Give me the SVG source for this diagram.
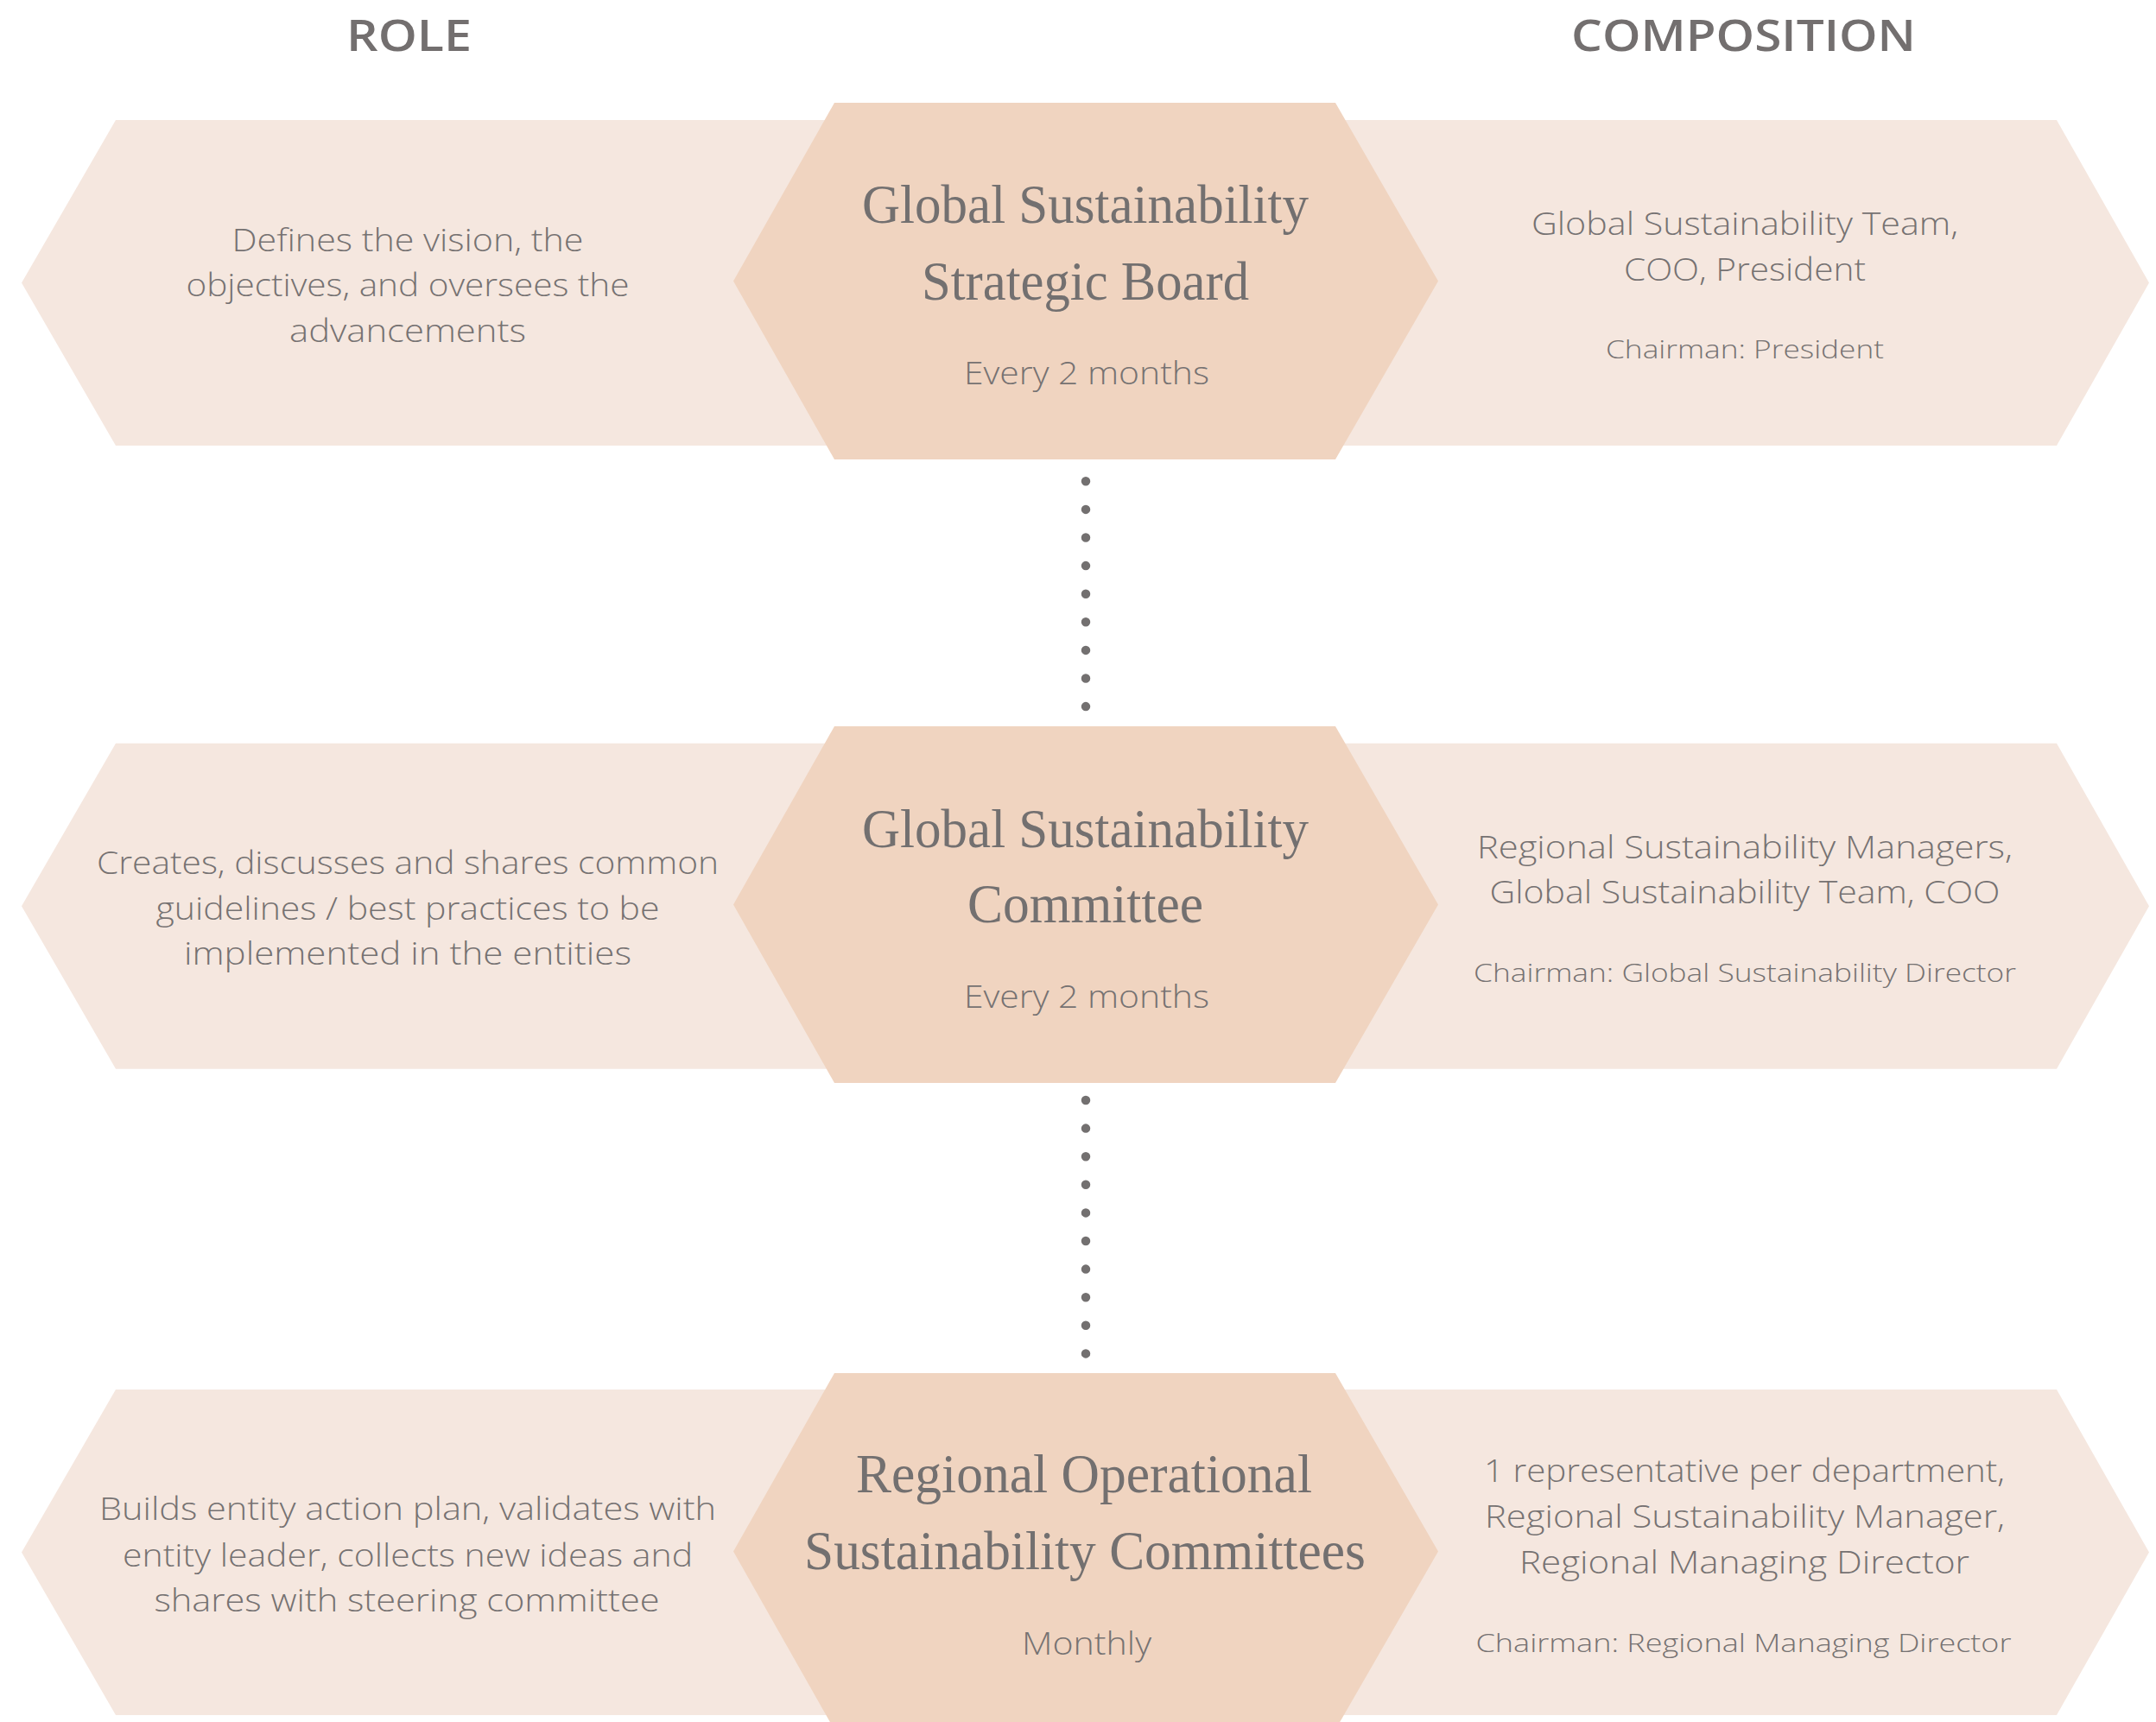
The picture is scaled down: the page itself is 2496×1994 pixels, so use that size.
<svg xmlns="http://www.w3.org/2000/svg" width="2496" height="1994" viewBox="0 0 2496 1994">
<defs>
<style>
.panel{fill:#F5E7DF}
.hex{fill:#F0D4C0}
.hdr{font-family:"Open Sans","Liberation Sans",sans-serif;font-weight:600;font-size:51px;fill:#736F6F;text-anchor:middle}
.ttl{font-family:"Liberation Serif","DejaVu Serif",serif;font-size:63px;fill:#737070;text-anchor:middle}
.body{font-family:"Open Sans","Liberation Sans",sans-serif;font-weight:300;font-size:36px;fill:#767272;text-anchor:middle}
.small{font-family:"Open Sans","Liberation Sans",sans-serif;font-weight:300;font-size:30px;fill:#767272;text-anchor:middle}
.dots{stroke:#737070;stroke-width:10.5;stroke-linecap:round;stroke-dasharray:0 32.6;fill:none}
</style>
</defs>
<rect width="2496" height="1994" fill="#FFFFFF"/>

<g id="headers">
<text class="hdr" x="473.5" y="59" textLength="145" lengthAdjust="spacingAndGlyphs">ROLE</text>
<text class="hdr" x="2018.5" y="59" textLength="399" lengthAdjust="spacingAndGlyphs">COMPOSITION</text>
</g>

<g id="connectors">
<line class="dots" x1="1257" y1="557.3" x2="1257" y2="818.2"/>
<line class="dots" x1="1257" y1="1274" x2="1257" y2="1567.5"/>
</g>

<g id="row1">
<g id="role1">
<polygon class="panel" points="25,327.5 134,139 1000,139 1000,516 134,516"/>
<text class="body" x="472" y="291" textLength="407" lengthAdjust="spacingAndGlyphs">Defines the vision, the</text>
<text class="body" x="472" y="343.3" textLength="513" lengthAdjust="spacingAndGlyphs">objectives, and oversees the</text>
<text class="body" x="472" y="396" textLength="274" lengthAdjust="spacingAndGlyphs">advancements</text>
</g>
<g id="comp1">
<polygon class="panel" points="1500,139 2381,139 2488,327.5 2381,516 1500,516"/>
<text class="body" x="2020" y="271.7" textLength="494" lengthAdjust="spacingAndGlyphs">Global Sustainability Team,</text>
<text class="body" x="2020" y="325" textLength="280" lengthAdjust="spacingAndGlyphs">COO, President</text>
<text class="small" x="2020" y="415" textLength="322" lengthAdjust="spacingAndGlyphs">Chairman: President</text>
</g>
<g id="board">
<polygon class="hex" points="849,325.5 966,119 1546,119 1665,325.5 1546,532 966,532"/>
<text class="ttl" x="1256.5" y="258.3" textLength="517" lengthAdjust="spacingAndGlyphs">Global Sustainability</text>
<text class="ttl" x="1256.5" y="346.7" textLength="379" lengthAdjust="spacingAndGlyphs">Strategic Board</text>
<text class="body" x="1258" y="445" textLength="284" lengthAdjust="spacingAndGlyphs">Every 2 months</text>
</g>
</g>

<g id="row2">
<g id="role2">
<polygon class="panel" points="25,1049.2 134,860.7 1000,860.7 1000,1237.7 134,1237.7"/>
<text class="body" x="472" y="1011.7" textLength="720" lengthAdjust="spacingAndGlyphs">Creates, discusses and shares common</text>
<text class="body" x="472" y="1065" textLength="583" lengthAdjust="spacingAndGlyphs">guidelines / best practices to be</text>
<text class="body" x="472" y="1117.3" textLength="518" lengthAdjust="spacingAndGlyphs">implemented in the entities</text>
</g>
<g id="comp2">
<polygon class="panel" points="1500,860.7 2381,860.7 2488,1049.2 2381,1237.7 1500,1237.7"/>
<text class="body" x="2020" y="994" textLength="620" lengthAdjust="spacingAndGlyphs">Regional Sustainability Managers,</text>
<text class="body" x="2020" y="1045.7" textLength="591" lengthAdjust="spacingAndGlyphs">Global Sustainability Team, COO</text>
<text class="small" x="2020" y="1136.7" textLength="628" lengthAdjust="spacingAndGlyphs">Chairman: Global Sustainability Director</text>
</g>
<g id="committee">
<polygon class="hex" points="849,1047.5 966,841 1546,841 1665,1047.5 1546,1254 966,1254"/>
<text class="ttl" x="1256.5" y="981" textLength="517" lengthAdjust="spacingAndGlyphs">Global Sustainability</text>
<text class="ttl" x="1256.5" y="1068.3" textLength="273" lengthAdjust="spacingAndGlyphs">Committee</text>
<text class="body" x="1258" y="1167.3" textLength="284" lengthAdjust="spacingAndGlyphs">Every 2 months</text>
</g>
</g>

<g id="row3">
<g id="role3">
<polygon class="panel" points="25,1797.5 134,1609 1000,1609 1000,1986 134,1986"/>
<text class="body" x="472" y="1760" textLength="714" lengthAdjust="spacingAndGlyphs">Builds entity action plan, validates with</text>
<text class="body" x="472" y="1814.3" textLength="660" lengthAdjust="spacingAndGlyphs">entity leader, collects new ideas and</text>
<text class="body" x="471" y="1866" textLength="585" lengthAdjust="spacingAndGlyphs">shares with steering committee</text>
</g>
<g id="comp3">
<polygon class="panel" points="1500,1609 2381,1609 2488,1797.5 2381,1986 1500,1986"/>
<text class="body" x="2019.5" y="1715.7" textLength="603" lengthAdjust="spacingAndGlyphs">1 representative per department,</text>
<text class="body" x="2020" y="1769" textLength="602" lengthAdjust="spacingAndGlyphs">Regional Sustainability Manager,</text>
<text class="body" x="2019.5" y="1822.3" textLength="521" lengthAdjust="spacingAndGlyphs">Regional Managing Director</text>
<text class="small" x="2018.5" y="1913.3" textLength="620" lengthAdjust="spacingAndGlyphs">Chairman: Regional Managing Director</text>
</g>
<g id="regional">
<polygon class="hex" points="849,1796.5 966,1590 1546,1590 1665,1796.5 1546,2003 966,2003"/>
<text class="ttl" x="1255" y="1728.3" textLength="528" lengthAdjust="spacingAndGlyphs">Regional Operational</text>
<text class="ttl" x="1256" y="1816.7" textLength="650" lengthAdjust="spacingAndGlyphs">Sustainability Committees</text>
<text class="body" x="1258" y="1916" textLength="150" lengthAdjust="spacingAndGlyphs">Monthly</text>
</g>
</g>
</svg>
